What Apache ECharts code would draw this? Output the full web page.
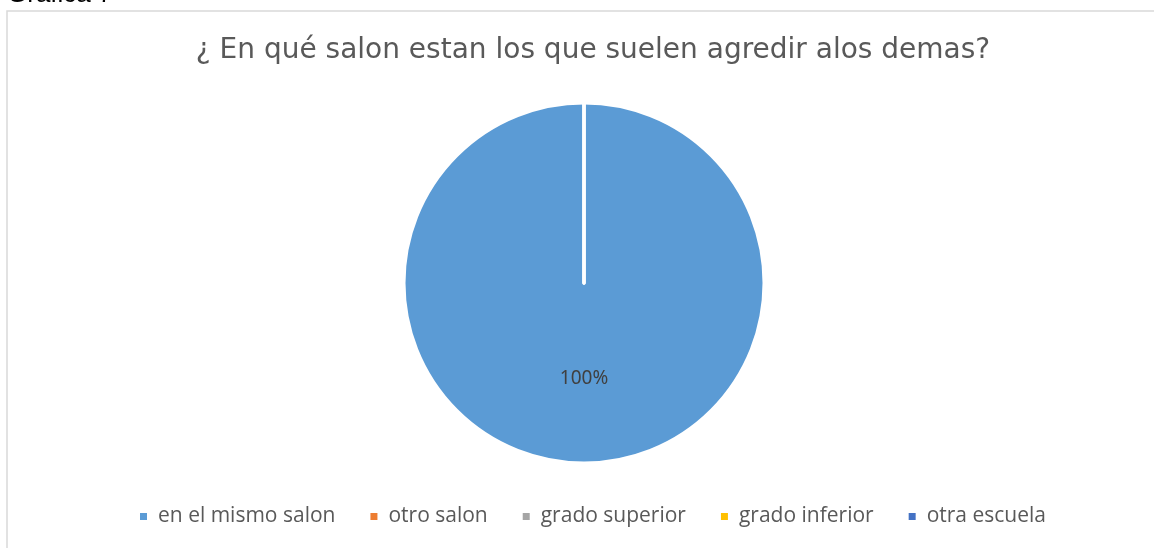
<!DOCTYPE html>
<html>
<head>
<meta charset="utf-8">
<script src="https://cdn.jsdelivr.net/npm/echarts@6/dist/echarts.min.js"></script>
<style>
  html, body { margin: 0; padding: 0; background: #fff; }
  #chart { width: 1154px; height: 548px; }
</style>
</head>
<body>
<div id="chart"></div>
<script>
var categories = ['en el mismo salon', 'otro salon', 'grado superior', 'grado inferior', 'otra escuela'];
var values = [100, 0, 0, 0, 0];
var colors = ['#5B9BD5', '#ED7D31', '#A5A5A5', '#FFC000', '#4472C4'];

var chart = echarts.init(document.getElementById('chart'));

var pieData = categories.map(function(name, i) {
    return {
        name: name,
        value: values[i],
        label: { show: values[i] > 0 },
        labelLine: { show: false }
    };
});

chart.setOption({
    color: colors,
    animation: false,
    title: {
        text: '¿ En qué salon estan los que suelen agredir alos demas?',
        left: 588,
        textAlign: 'center',
        top: 32,
        textStyle: { fontFamily: 'DejaVu Sans', fontSize: 28, fontWeight: 'normal', color: '#595959' }
    },
    legend: {
        bottom: 16,
        left: 133,
        icon: 'rect',
        itemWidth: 9,
        itemHeight: 9,
        itemGap: 33,
        textStyle: { fontFamily: 'Open Sans, Noto Sans', fontSize: 21, color: '#595959', padding: [0, 0, 0, 5] }
    },
    graphic: [
        {
            type: 'rect',
            shape: { x: 7, y: 11, width: 1160, height: 560 },
            style: { fill: 'none', stroke: '#d9d9d9', lineWidth: 1.5 },
            silent: true
        },
        {
            type: 'text',
            left: 7,
            top: -18,
            style: { text: 'Gráfica 7', font: '26px Liberation Sans, Arial', fill: '#000' },
            silent: true
        }
    ],
    series: [{
        type: 'pie',
        center: [584, 283],
        radius: 180,
        startAngle: 90,
        clockwise: true,
        itemStyle: { borderColor: '#fff', borderWidth: 3 },
        label: {
            position: 'inside',
            formatter: '{d}%',
            fontFamily: 'Noto Sans',
            fontSize: 19,
            color: '#404040',
            offset: [0, 3]
        },
        emphasis: { disabled: true },
        data: pieData
    }]
});
</script>
</body>
</html>
